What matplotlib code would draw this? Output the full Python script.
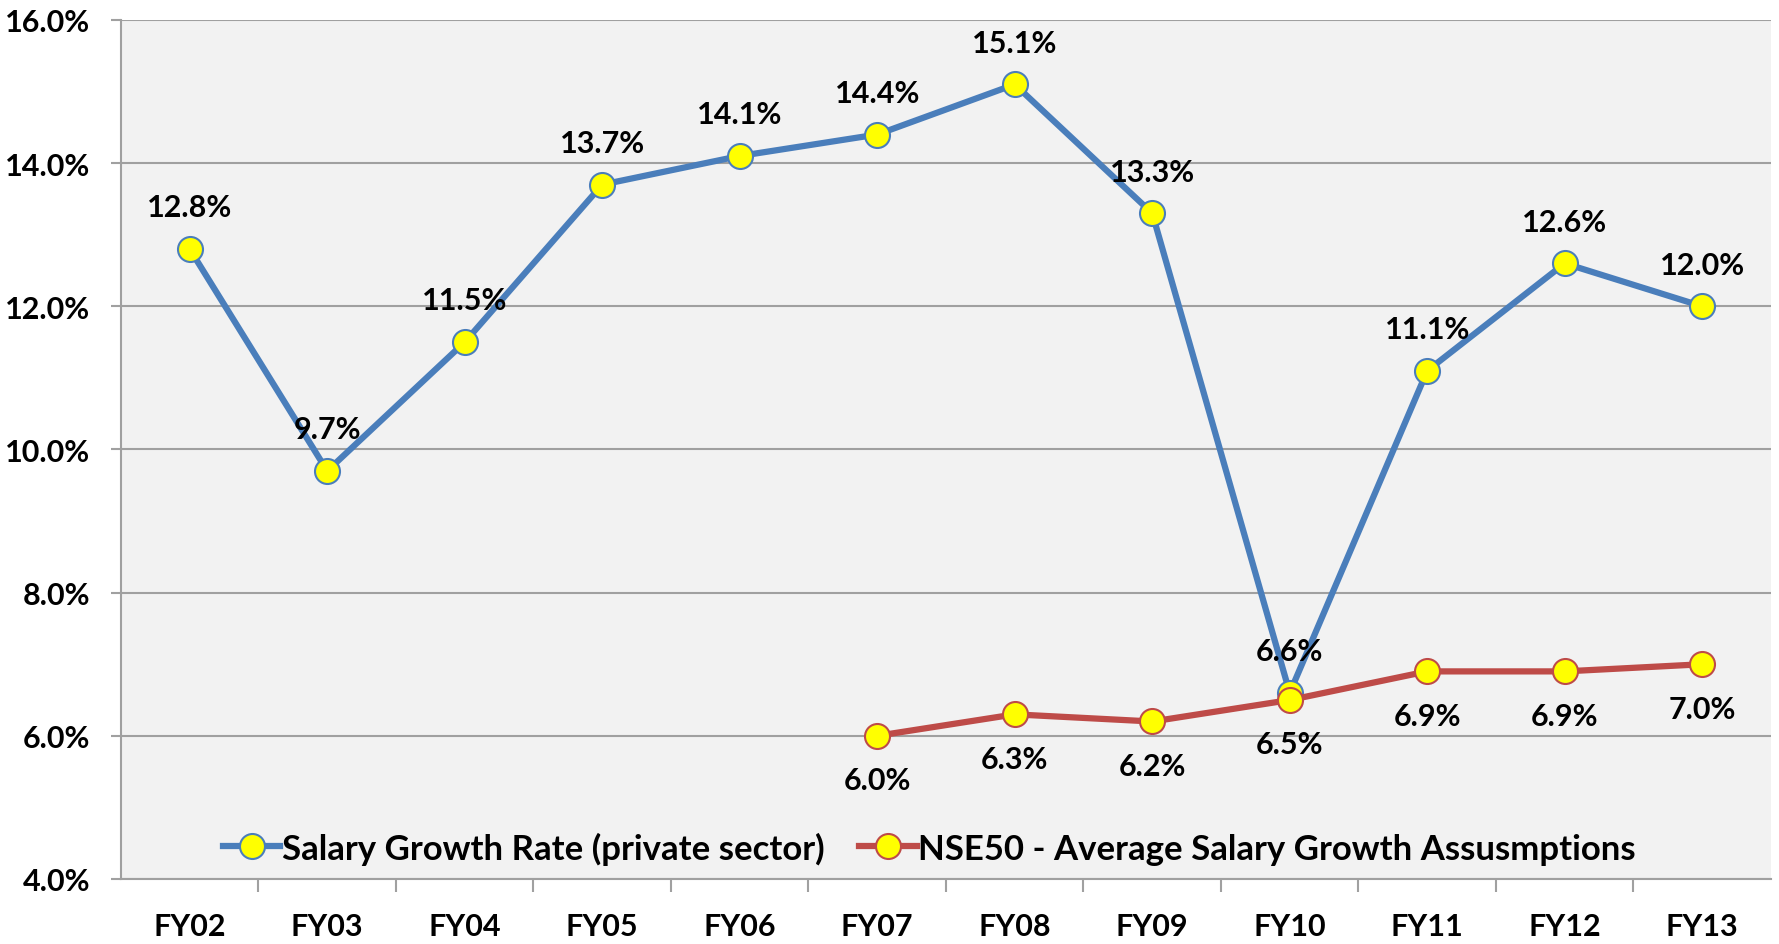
import matplotlib
matplotlib.use("Agg")
import matplotlib.pyplot as plt
from matplotlib.ticker import FuncFormatter, MultipleLocator, FixedLocator

plt.rcParams['font.family'] = ['Lato', 'DejaVu Sans']
plt.rcParams['font.weight'] = 'bold'

# data
years = ['FY02', 'FY03', 'FY04', 'FY05', 'FY06', 'FY07',
         'FY08', 'FY09', 'FY10', 'FY11', 'FY12', 'FY13']
salary_growth = [12.8, 9.7, 11.5, 13.7, 14.1, 14.4, 15.1, 13.3, 6.6, 11.1, 12.6, 12.0]
nse_years = ['FY07', 'FY08', 'FY09', 'FY10', 'FY11', 'FY12', 'FY13']
nse_growth = [6.0, 6.3, 6.2, 6.5, 6.9, 6.9, 7.0]

blue = '#4A7EBB'
red = '#BE4B48'
grid_col = '#A0A0A0'
fs = 22

fig = plt.figure(figsize=(17.79, 9.45), dpi=100)
ax = fig.add_axes([0.068, 0.0688, 0.9275, 0.909])
ax.set_facecolor('#F2F2F2')

x_all = list(range(len(years)))
x_nse = [years.index(y) for y in nse_years]

ax.plot(x_all, salary_growth, color=blue, lw=4.5, marker='o', ms=18,
        mfc='#FFFF00', mec=blue, mew=1.5, label='Salary Growth Rate (private sector)', zorder=3)
ax.plot(x_nse, nse_growth, color=red, lw=4.5, marker='o', ms=18,
        mfc='#FFFF00', mec=red, mew=1.5, label='NSE50 - Average Salary Growth Assusmptions', zorder=4)

for xi, v in zip(x_all, salary_growth):
    ax.annotate(f'{v:.1f}%', (xi, v), xytext=(0, 30), textcoords='offset points',
                ha='center', va='center', fontsize=fs, fontweight='bold')
for xi, v in zip(x_nse, nse_growth):
    ax.annotate(f'{v:.1f}%', (xi, v), xytext=(0, -32), textcoords='offset points',
                ha='center', va='center', fontsize=fs, fontweight='bold')

ax.set_xlim(-0.5, len(years) - 0.5)
ax.set_ylim(4, 16)
ax.yaxis.set_major_locator(MultipleLocator(2))
ax.yaxis.set_major_formatter(FuncFormatter(lambda v, p: f'{v:.1f}%'))
ax.grid(axis='y', color=grid_col, lw=1.5, zorder=0)
ax.set_axisbelow(True)

ax.set_xticks(x_all)
ax.set_xticklabels(years)
ax.xaxis.set_minor_locator(FixedLocator([i + 0.5 for i in range(len(years) - 1)]))
ax.tick_params(axis='x', which='major', length=0, pad=24, labelsize=fs)
ax.tick_params(axis='x', which='minor', length=9, width=1.5, color=grid_col)
ax.tick_params(axis='y', length=7, width=1.5, color=grid_col, pad=15, labelsize=fs)

for s in ['top', 'right']:
    ax.spines[s].set_visible(False)
for s in ['left', 'bottom']:
    ax.spines[s].set_color(grid_col)
    ax.spines[s].set_linewidth(1.5)

ax.legend(loc='center', bbox_to_anchor=(0.49, 0.036), ncol=2, frameon=False,
          fontsize=25, handlelength=1.65, handletextpad=0.05, columnspacing=1.0,
          borderaxespad=0)

fig.savefig('out.png', dpi=100)
